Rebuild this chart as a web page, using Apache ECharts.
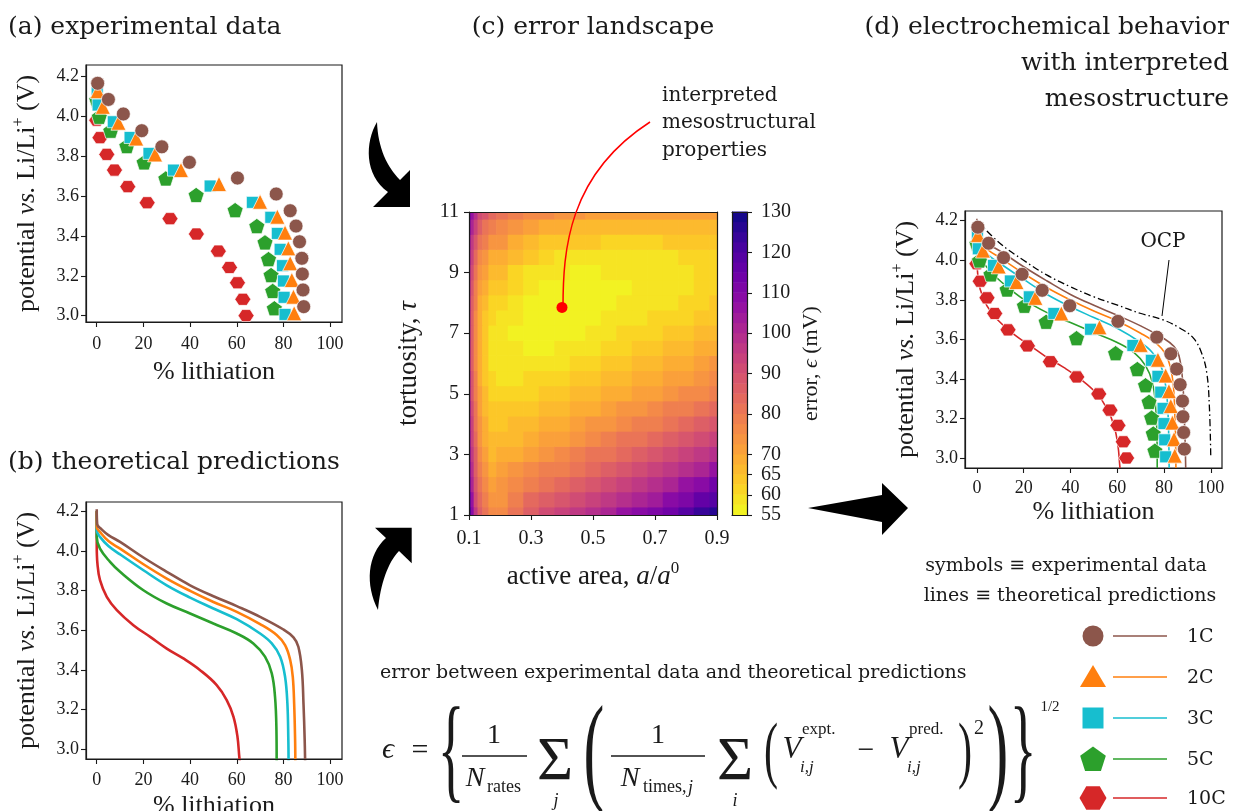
<!DOCTYPE html>
<html><head><meta charset="utf-8">
<script src="https://cdn.jsdelivr.net/npm/echarts@6/dist/echarts.min.js"></script>
<style>html,body{margin:0;padding:0;background:#fff}#c{width:1233px;height:811px}</style>
</head><body><div id="c"></div>
<script>
// ---------------- data ----------------
const rateNames = ['1C','2C','3C','5C','10C'];
// experimental data (panels a, d)
const exp1C_x = [0.4, 5.0, 11.4, 19.3, 27.9, 39.7, 60.3, 76.9, 82.9, 85.4, 86.9, 87.9, 88.1, 88.4, 88.7];
const exp1C_y = [4.167, 4.086, 4.013, 3.929, 3.848, 3.770, 3.691, 3.611, 3.527, 3.450, 3.371, 3.288, 3.209, 3.129, 3.045];
const exp2C_x = [0.4, 2.6, 9.3, 16.9, 25.0, 36.1, 52.4, 70.0, 77.4, 80.7, 82.1, 82.9, 83.6, 84.3, 84.6];
const exp2C_y = [4.128, 4.049, 3.969, 3.890, 3.810, 3.731, 3.661, 3.572, 3.497, 3.417, 3.338, 3.263, 3.179, 3.095, 3.012];
const exp3C_x = [0.2, 0.6, 7.1, 14.3, 22.4, 32.9, 48.6, 66.7, 74.6, 77.4, 78.6, 79.6, 80.0, 80.3, 80.7];
const exp3C_y = [4.135, 4.058, 3.974, 3.895, 3.815, 3.731, 3.651, 3.569, 3.494, 3.413, 3.333, 3.251, 3.174, 3.092, 3.006];
const exp5C_x = [0.0, 1.1, 6.0, 12.9, 20.3, 29.6, 42.6, 59.3, 68.6, 72.1, 73.6, 74.7, 75.4, 76.1];
const exp5C_y = [4.083, 3.999, 3.929, 3.852, 3.770, 3.689, 3.606, 3.530, 3.450, 3.368, 3.284, 3.204, 3.124, 3.037];
const exp10C_x = [0.0, 1.4, 4.3, 7.6, 13.3, 21.6, 31.4, 42.7, 52.1, 56.9, 60.3, 62.6, 64.0];
const exp10C_y = [3.982, 3.894, 3.810, 3.731, 3.648, 3.567, 3.487, 3.410, 3.324, 3.242, 3.165, 3.082, 3.000];
// theoretical predictions (panels b, d)
const th1C_x = [0, 0.2, 2, 5, 10, 20, 30, 40, 50, 60, 70, 80, 84.3, 86.4, 87.9, 88.6, 89.1, 89.3];
const th1C_y = [4.21, 4.135, 4.11, 4.08, 4.046, 3.967, 3.895, 3.827, 3.772, 3.722, 3.668, 3.604, 3.564, 3.517, 3.40, 3.23, 3.05, 2.94];
const th2C_x = [0, 0, 1.4, 5, 10, 20, 30, 40, 50, 60, 70, 77.1, 80.7, 82.9, 84.0, 84.6, 85.0, 85.1];
const th2C_y = [4.2, 4.121, 4.096, 4.05, 4.012, 3.933, 3.861, 3.799, 3.743, 3.693, 3.631, 3.576, 3.525, 3.45, 3.366, 3.23, 3.05, 2.94];
const th3C_x = [0, 0, 1.4, 5, 10, 20, 30, 40, 50, 60, 70, 75, 78.6, 80.7, 81.7, 82.1, 82.2];
const th3C_y = [4.2, 4.104, 4.071, 4.025, 3.983, 3.903, 3.827, 3.765, 3.71, 3.656, 3.584, 3.534, 3.467, 3.366, 3.23, 3.05, 2.94];
const th5C_x = [0, 0, 1.4, 5.7, 10, 20, 30, 40, 50, 60, 67.1, 72.1, 75.0, 76.4, 77.0, 77.1];
const th5C_y = [4.2, 4.071, 4.012, 3.945, 3.895, 3.802, 3.735, 3.685, 3.634, 3.584, 3.534, 3.467, 3.383, 3.265, 3.10, 2.94];
const th10C_x = [0, 0, 0.3, 1.4, 4.3, 8.6, 15.7, 22.9, 30, 37.1, 44.3, 51.4, 55.7, 58.6, 60.3, 61.1, 61.3];
const th10C_y = [4.2, 4.029, 3.936, 3.853, 3.769, 3.702, 3.626, 3.567, 3.508, 3.458, 3.399, 3.324, 3.248, 3.164, 3.064, 2.96, 2.94];
const ocp_x = [0, 9.8, 19.8, 29.8, 39.8, 49.8, 59.8, 69.8, 79.7, 86.9, 92.6, 96.1, 98.3, 99.4, 100];
const ocp_y = [4.2, 4.086, 4.001, 3.926, 3.867, 3.816, 3.774, 3.732, 3.698, 3.656, 3.606, 3.53, 3.429, 3.261, 3.0];
// error landscape (panel c): sample positions and read error values (mV)
const heatArea = [0.1, 0.11, 0.12, 0.135, 0.15, 0.175, 0.2, 0.25, 0.3, 0.35, 0.4, 0.45, 0.5, 0.55, 0.6, 0.65, 0.7, 0.75, 0.8, 0.85, 0.9];
const heatTau = [1, 1.5, 2, 2.5, 3, 3.5, 4, 4.5, 5, 5.5, 6, 6.5, 7, 7.5, 8, 8.5, 9, 9.5, 10, 10.5, 11];
const errGrid = [
 [125,109,95,85.5,80,75,77.0, 82.1,86.9,90.6,93.4,96.4,99.0,102.0,105.1,107.8,111.0,114.4,118.5,122.5,127.0],
 [120,105,92,82.5,77.5,72.6,74.7, 78.7,82.8,86.0,88.5,91.3,93.8,96.5,99.4,101.9,104.8,108.0,111.7,115.4,119.5],
 [117,102,89.5,80,75.3,70.6,72.5, 75.5,79.0,81.8,84.0,86.6,88.8,91.4,94.0,96.4,99.0,101.9,105.3,108.6,112.5],
 [114,99,87,78,73.3,68.8,70.4, 72.6,75.5,77.8,79.8,82.2,84.2,86.6,89.0,91.2,93.6,96.3,99.4,102.4,105.9],
 [111,96.5,85,76,71.5,67,68.4, 69.9,72.2,74.2,75.9,78.1,80.0,82.1,84.4,86.4,88.5,91.0,93.8,96.5,99.8],
 [109,94.5,83.2,74.3,69.8,65.4,66.5, 67.4,69.3,70.8,72.4,74.3,76.1,78.0,80.1,81.9,83.9,86.1,88.7,91.1,94.1],
 [107,92.5,81.5,72.8,68.2,64,64.7, 65.2,66.6,67.8,69.1,70.9,72.5,74.3,76.2,77.8,79.6,81.6,83.9,86.1,88.9],
 [106,91,80,71.3,66.8,62.6,63.0, 63.2,64.1,65.1,66.2,67.8,69.2,70.9,72.6,74.1,75.7,77.6,79.6,81.6,84.1],
 [104,89,78.5,70,65.5,61.3,61.5, 61.4,62.0,62.7,63.6,65.0,66.3,67.8,69.4,70.7,72.2,73.9,75.7,77.4,79.8],
 [103,88,77.5,69,64.7,60.2,59.9, 59.9,60.1,60.5,61.3,62.6,63.8,65.1,66.5,67.7,69.0,70.5,72.1,73.7,75.9],
 [102,87,76.5,68.3,64,59.5,58.8, 58.6,58.5,58.7,59.3,60.4,61.5,62.7,64.0,65.1,66.2,67.6,69.0,70.4,72.5],
 [101,86,76,68,63.8,59.3,58.5, 57.5,57.2,57.2,57.7,58.7,59.7,60.7,61.8,62.8,63.8,65.1,66.3,67.6,69.5],
 [100,86,76,68,64,59.6,59.0, 57.0,56.1,56.0,56.4,57.2,58.1,59.0,60.0,60.9,61.8,62.9,64.0,65.2,66.9],
 [100,86,76.5,68.5,64.5,60.5,59.9, 57.5,55.9,55.2,55.3,56.1,56.9,57.7,58.6,59.4,60.2,61.2,62.2,63.2,64.8],
 [100,87,77.5,69.5,65.5,62,61.3, 58.6,56.6,55.6,55.3,55.5,56.0,56.7,57.5,58.2,58.9,59.8,60.7,61.6,63.2],
 [101,88,79,71.5,67.5,64,63.2, 60.2,57.9,56.7,56.1,56.1,56.3,56.7,57.1,57.5,58.0,58.8,59.6,60.5,62.0],
 [102,90,81.5,74,70,66.5,65.6, 62.3,59.9,58.4,57.6,57.4,57.4,57.5,57.7,58.0,58.4,58.9,59.4,60.2,61.6],
 [104,93,84.5,77,73,69.5,68.4, 65.0,62.5,60.8,59.8,59.3,59.1,59.1,59.1,59.3,59.5,59.9,60.3,60.9,62.2],
 [107,97,89,81.5,78,74,72.8, 69.3,66.7,64.8,63.7,63.0,62.6,62.4,62.2,62.2,62.3,62.6,62.9,63.4,64.4],
 [110,101,94,86,82,78,76.6, 74.1,71.5,69.6,68.2,67.4,66.7,66.3,66.0,65.9,65.9,66.0,66.2,66.6,67.4],
 [114,106,99,92,88,84,82.0, 79.5,77.0,75.0,73.5,72.5,71.5,71.0,70.5,70.3,70.2,70.2,70.3,70.6,71.0]
];
const bestPoint = [0.4, 7.85];
const cbarLevels = [55,57.5,60,62.5,65,67.5,70,72.5,75,77.5,80,82.5,85,87.5,90,92.5,95,97.5,100,102.5,105,107.5,110,112.5,115,117.5,120,122.5,125,127.5];
const cbarStep = 2.5;
// tick values
const pctTicks = [0,20,40,60,80,100];
const voltTicks = [3.0,3.2,3.4,3.6,3.8,4.0,4.2];
const areaTicks = [0.1,0.3,0.5,0.7,0.9];
const tauTicks = [1,3,5,7,9,11];
const errTicks = [55,60,65,70,80,90,100,110,120,130];

// ---------------- styles ----------------
const CM = "'Liberation Serif','DejaVu Serif',serif";
const TX = "'DejaVu Serif',serif";
const INK = '#1a1a1a';
const rateColor = ['#8c564b','#ff7f0e','#17becf','#2ca02c','#d62728'];
const PENT = 'path://M0,-1 L0.951,-0.309 L0.588,0.809 L-0.588,0.809 L-0.951,-0.309 Z';
const HEX = 'path://M1,0 L0.5,0.866 L-0.5,0.866 L-1,0 L-0.5,-0.866 L0.5,-0.866 Z';
const rateSymbol = ['circle','triangle','rect',PENT,HEX];
const rateSymSize = [14,15,12,16,[16,14]];
const expX = [exp1C_x,exp2C_x,exp3C_x,exp5C_x,exp10C_x];
const expY = [exp1C_y,exp2C_y,exp3C_y,exp5C_y,exp10C_y];
const thX = [th1C_x,th2C_x,th3C_x,th5C_x,th10C_x];
const thY = [th1C_y,th2C_y,th3C_y,th5C_y,th10C_y];
const zip = (a,b) => a.map((v,i)=>[v,b[i]]);

const plasmaStops = ['#0d0887','#41049d','#6a00a8','#8f0da4','#b12a90','#cc4778','#e16462','#f2844b','#fca636','#fcce25','#f0f921'];
function hex2rgb(h){return [parseInt(h.substr(1,2),16),parseInt(h.substr(3,2),16),parseInt(h.substr(5,2),16)];}
function plasma(t){
  t=Math.max(0,Math.min(1,t)); const s=t*10; const k=Math.min(9,Math.floor(s)); const f=s-k;
  const a=hex2rgb(plasmaStops[k]), b=hex2rgb(plasmaStops[k+1]);
  return 'rgb('+a.map((v,i)=>Math.round(v+(b[i]-v)*f)).join(',')+')';
}
function errColor(v){
  const n=cbarLevels.length; let k=Math.floor((v-cbarLevels[0])/cbarStep); k=Math.max(0,Math.min(n-1,k));
  return plasma(1-(k+0.5)/n);
}

function baseAxis(o){
  const a = {
    type:'value', z:10,
    axisLine:{show:true,onZero:false,lineStyle:{color:INK,width:1.2}},
    axisTick:{show:true,inside:false,length:5,lineStyle:{color:INK,width:1.1}},
    splitLine:{show:false},
    axisLabel:{show:true,color:INK,fontFamily:CM,fontSize:18},
    nameLocation:'middle',
    nameTextStyle:{color:INK,fontFamily:CM,fontSize:26}
  };
  for (const k in o){ if (typeof o[k]==='object' && !Array.isArray(o[k]) && a[k]) a[k]=Object.assign({},a[k],o[k]); else a[k]=o[k]; }
  return a;
}
function lineOnly(o){ return Object.assign({type:'value',z:10,axisLine:{show:true,onZero:false,lineStyle:{color:INK,width:1.2}},axisTick:{show:false},axisLabel:{show:false},splitLine:{show:false}},o); }

const richAxis = (fs)=>({
  n:{fontFamily:CM,fontSize:fs,lineHeight:fs+6,verticalAlign:'middle',color:INK},
  i:{fontFamily:CM,fontSize:fs,fontStyle:'italic',lineHeight:fs+6,verticalAlign:'middle',color:INK},
  s:{fontFamily:CM,fontSize:Math.round(fs*0.62),lineHeight:Math.round(fs*0.62),verticalAlign:'top',color:INK}
});
const potName = '{n|potential }{i|vs.}{n| Li/Li}{s|+}{n| (V)}';

const pctAxis = (gi,min,max,margin,gap)=>baseAxis({gridIndex:gi,min:min,max:max,
  axisTick:{customValues:pctTicks},axisLabel:{customValues:pctTicks,margin:margin},name:'% lithiation',nameGap:gap});
const voltAxis = (gi,min,max)=>baseAxis({gridIndex:gi,min:min,max:max,
  axisTick:{customValues:voltTicks},axisLabel:{customValues:voltTicks,margin:7,formatter:v=>v.toFixed(1)},
  name:potName,nameGap:43,nameRotate:90,nameTextStyle:{rich:richAxis(26)}});

// ---------------- series ----------------
const series = [];
// panel c heat
const heatData = [];
errGrid.forEach((row,j)=>row.forEach((v,i)=>heatData.push([heatArea[i],heatTau[j],v,i,j])));
series.push({
  type:'custom', xAxisIndex:2, yAxisIndex:2, silent:true, progressive:0,
  dimensions:['a','tau','err','i','j'], encode:{x:0,y:1},
  data:heatData,
  renderItem:function(params,api){
    const i=api.value(3), j=api.value(4), nx=heatArea.length, ny=heatTau.length;
    const x0=i===0?heatArea[0]:(heatArea[i-1]+heatArea[i])/2;
    const x1=i===nx-1?heatArea[i]:(heatArea[i]+heatArea[i+1])/2;
    const y0=j===0?heatTau[0]:(heatTau[j-1]+heatTau[j])/2;
    const y1=j===ny-1?heatTau[j]:(heatTau[j]+heatTau[j+1])/2;
    const p0=api.coord([x0,y0]), p1=api.coord([x1,y1]);
    const pr=i===nx-1?0:0.7, pt=j===ny-1?0:0.7;
    return {type:'rect',shape:{x:p0[0],y:p1[1]-pt,width:p1[0]-p0[0]+pr,height:p0[1]-p1[1]+pt},style:{fill:errColor(api.value(2))}};
  }
});
series.push({type:'scatter',xAxisIndex:2,yAxisIndex:2,z:5,silent:true,symbol:'circle',symbolSize:11,itemStyle:{color:'#ff0000',opacity:1},data:[bestPoint]});
// colorbar
series.push({
  type:'custom', xAxisIndex:4, yAxisIndex:4, silent:true,
  data:cbarLevels.map(l=>[0.5,l]),
  renderItem:function(params,api){
    const l=api.value(1); const p0=api.coord([0,l]), p1=api.coord([1,l+cbarStep]);
    return {type:'rect',shape:{x:p0[0],y:p1[1]-0.5,width:p1[0]-p0[0],height:p0[1]-p1[1]+0.5},style:{fill:errColor(l+cbarStep/2)}};
  }
});
for (let k=4;k>=0;k--){
  series.push({type:'scatter',xAxisIndex:0,yAxisIndex:0,name:rateNames[k],symbol:rateSymbol[k],symbolSize:rateSymSize[k],symbolKeepAspect:true,
    itemStyle:{color:rateColor[k],opacity:1,borderColor:'#fff',borderWidth:0.7},data:zip(expX[k],expY[k]),silent:true});
}
for (let k=4;k>=0;k--){
  series.push({type:'line',xAxisIndex:1,yAxisIndex:1,name:rateNames[k],showSymbol:false,smooth:0.4,
    lineStyle:{color:rateColor[k],width:2.6},data:zip(thX[k],thY[k]),silent:true});
}
series.push({type:'line',xAxisIndex:6,yAxisIndex:6,name:'OCP',showSymbol:false,smooth:0.4,
  lineStyle:{color:'#000',width:1.3,type:[7,3,1.5,3]},data:zip(ocp_x,ocp_y),silent:true});
for (let k=4;k>=0;k--){
  series.push({type:'line',xAxisIndex:6,yAxisIndex:6,name:rateNames[k],showSymbol:false,smooth:0.4,
    lineStyle:{color:rateColor[k],width:1.6},data:zip(thX[k],thY[k]),silent:true});
}
for (let k=4;k>=0;k--){
  series.push({type:'scatter',xAxisIndex:6,yAxisIndex:6,z:4,name:rateNames[k],symbol:rateSymbol[k],symbolSize:rateSymSize[k],symbolKeepAspect:true,
    itemStyle:{color:rateColor[k],opacity:1,borderColor:'#fff',borderWidth:0.7},data:zip(expX[k],expY[k]),silent:true});
}

// ---------------- graphics ----------------
const G = [];
const txt = (x,y,s,font,align,va,extra)=>Object.assign({type:'text',x:x,y:y,z:100,silent:true,style:{text:s,font:font,fill:INK,align:align||'left',verticalAlign:va||'middle'}},extra||{});
G.push(txt(8,27,'(a) experimental data','25px '+TX));
G.push(txt(8,462,'(b) theoretical predictions','25px '+TX));
G.push(txt(593,27,'(c) error landscape','25px '+TX,'center'));
G.push(txt(1229,27,'(d) electrochemical behavior','25px '+TX,'right'));
G.push(txt(1229,63,'with interpreted','25px '+TX,'right'));
G.push(txt(1229,99,'mesostructure','25px '+TX,'right'));
G.push(txt(662,96,'interpreted','20px '+TX));
G.push(txt(662,123,'mesostructural','20px '+TX));
G.push(txt(662,151,'properties','20px '+TX));
G.push({type:'bezierCurve',z:100,silent:true,shape:{x1:563,y1:308,cpx1:563,cpy1:250,cpx2:568,cpy2:175,x2:650,y2:122},style:{fill:null,stroke:'#ff0000',lineWidth:1.5}});
// arrows (polygons built from bezier outlines)
function bez(p0,p1,p2,p3,n){const out=[];for(let s=0;s<=n;s++){const t=s/n,u=1-t;
  out.push([u*u*u*p0[0]+3*u*u*t*p1[0]+3*u*t*t*p2[0]+t*t*t*p3[0], u*u*u*p0[1]+3*u*u*t*p1[1]+3*u*t*t*p2[1]+t*t*t*p3[1]]);}return out;}
const arrow1 = [].concat(bez([377,122],[365,142],[364,175],[388,192],16),[[373,207],[410,207],[410,170],[400,180]],bez([400,180],[387,167],[378,148],[377,122],16));
const arrow2 = [].concat(bez([378,610],[365,585],[367,555],[386,538],16),[[375,527.7],[411.7,527.7],[411.7,563.3],[399,551]],bez([399,551],[388,562],[380,585],[378,610],16));
const arrow3 = [[808,508],[882,495],[882,483],[908,508],[882,535],[882,522]];
[arrow1,arrow2,arrow3].forEach(p=>G.push({type:'polygon',z:100,silent:true,shape:{points:p},style:{fill:'#000'}}));
// OCP label
G.push(txt(1163,242,'OCP','20px '+TX,'center'));
G.push({type:'line',z:100,silent:true,shape:{x1:1169,y1:260,x2:1162,y2:316},style:{stroke:'#000',lineWidth:1}});
// legend
G.push(txt(1066,566,'symbols \u2261 experimental data','19px '+TX,'center'));
G.push(txt(1070,596,'lines \u2261 theoretical predictions','19px '+TX,'center'));
const legY=[636,677,718,759,798], legX=1093;
function poly(cx,cy,r,n,rot){const p=[];for(let i=0;i<n;i++){const a=rot+i*2*Math.PI/n;p.push([cx+r*Math.cos(a),cy+r*Math.sin(a)]);}return p;}
legY.forEach((y,k)=>{
  let m;
  if(k===0) m={type:'circle',shape:{cx:legX,cy:y,r:10.5}};
  else if(k===1) m={type:'polygon',shape:{points:[[legX-13,y+10],[legX+13,y+10],[legX,y-12]]}};
  else if(k===2) m={type:'rect',shape:{x:legX-10.5,y:y-10.5,width:21,height:21}};
  else if(k===3) m={type:'polygon',shape:{points:poly(legX,y+1,13.5,5,-Math.PI/2)}};
  else m={type:'polygon',shape:{points:poly(legX,y,13.5,6,0)}};
  m.z=100; m.silent=true; m.style={fill:rateColor[k]};
  G.push(m);
  G.push({type:'line',z:100,silent:true,shape:{x1:1113,y1:y,x2:1167,y2:y},style:{stroke:rateColor[k],lineWidth:1.6}});
  G.push(txt(1187,y+1,rateNames[k],'19px '+TX));
});
// equation
G.push(txt(380,673,'error between experimental data and theoretical predictions','19px '+TX));
const EQ = (x,y,s,size,italic,align,extra)=>txt(x,y,s,(italic?'italic ':'')+size+'px '+CM,align||'center','middle',extra);
G.push(EQ(388,750,'\u03f5',30,true));
G.push(EQ(420,751,'=',30,false));
G.push(EQ(451,757,'{',116,false,'center',{scaleX:0.48}));
G.push(EQ(494,736,'1',28,false));
G.push({type:'line',z:100,silent:true,shape:{x1:462,y1:756,x2:527,y2:756},style:{stroke:INK,lineWidth:1.3}});
G.push(EQ(475,779,'N',28,true));
G.push(EQ(487,787,'rates',18,false,'left'));
G.push(EQ(555,763,'\u03a3',62,false));
G.push(EQ(556,801,'j',18,true));
G.push(EQ(594,757,'(',120,false,'center',{scaleX:0.52}));
G.push(EQ(658,736,'1',28,false));
G.push({type:'line',z:100,silent:true,shape:{x1:611,y1:756,x2:705,y2:756},style:{stroke:INK,lineWidth:1.3}});
G.push(EQ(630,779,'N',28,true));
G.push(EQ(643,787,'times,',18,false,'left'));
G.push(EQ(688,788,'j',18,true,'left'));
G.push(EQ(735,763,'\u03a3',62,false));
G.push(EQ(735,801,'i',18,true));
G.push(EQ(771,755,'(',74,false,'center',{scaleX:0.57}));
G.push(EQ(792,750,'V',31,true));
G.push(EQ(802,730,'expt.',17,false,'left'));
G.push(EQ(800,768,'i,j',17,true,'left'));
G.push(EQ(866,751,'\u2212',30,false));
G.push(EQ(899,750,'V',31,true));
G.push(EQ(909,730,'pred.',17,false,'left'));
G.push(EQ(907,768,'i,j',17,true,'left'));
G.push(EQ(965,755,')',74,false,'center',{scaleX:0.57}));
G.push(EQ(979,729,'2',20,false));
G.push(EQ(998,757,')',120,false,'center',{scaleX:0.52}));
G.push(EQ(1023,757,'}',116,false,'center',{scaleX:0.48}));
G.push(EQ(1050,707,'1/2',15,false));

// ---------------- option ----------------
const gridCommon = {show:true,borderColor:INK,borderWidth:1.2,backgroundColor:'transparent',containLabel:false,outerBoundsMode:'none'};
const option = {
  animation:false,
  backgroundColor:'#fff',
  grid:[
    Object.assign({left:86,top:65,width:256,height:257},gridCommon),
    Object.assign({left:86,top:502,width:256,height:257},gridCommon),
    {left:469,top:212,width:248,height:303,show:false,containLabel:false,outerBoundsMode:'none'},
    {left:732,top:212,width:15,height:303,show:false,containLabel:false,outerBoundsMode:'none'},
    Object.assign({left:965,top:211,width:257,height:257},gridCommon)
  ],
  xAxis:[
    pctAxis(0,-4.6,105.1,13,37),
    pctAxis(1,-4.6,105.1,12,34),
    baseAxis({gridIndex:2,min:0.1,max:0.9,axisTick:{customValues:areaTicks},axisLabel:{customValues:areaTicks,margin:14,fontSize:20,formatter:v=>v.toFixed(1)},
      name:'{n|active area, }{i|a}{n|/}{i|a}{s|0}',nameGap:45,nameTextStyle:{rich:richAxis(27)}}),
    lineOnly({gridIndex:2,min:0.1,max:0.9,position:'top'}),
    lineOnly({gridIndex:3,min:0,max:1,position:'bottom'}),
    lineOnly({gridIndex:3,min:0,max:1,position:'top'}),
    pctAxis(4,-5.1,104.8,11,31)
  ],
  yAxis:[
    voltAxis(0,2.968,4.259),
    voltAxis(1,2.951,4.247),
    baseAxis({gridIndex:2,min:1,max:11,axisTick:{customValues:tauTicks},axisLabel:{customValues:tauTicks,margin:10,fontSize:20},
      name:'{n|tortuosity, }{i|\u03c4}',nameGap:44,nameRotate:90,nameTextStyle:{rich:richAxis(27)}}),
    lineOnly({gridIndex:2,min:1,max:11,position:'right'}),
    baseAxis({gridIndex:3,min:55,max:130,position:'right',axisTick:{customValues:errTicks},axisLabel:{customValues:errTicks,margin:14,fontSize:20},
      name:'{n|error, }{i|\u03f5}{n| (mV)}',nameGap:50,nameRotate:90,nameTextStyle:{rich:richAxis(22)}}),
    lineOnly({gridIndex:3,min:55,max:130,position:'left'}),
    voltAxis(4,2.9495,4.249)
  ],
  series:series,
  graphic:{elements:G}
};
const chart = echarts.init(document.getElementById('c'),null,{renderer:'canvas'});
chart.setOption(option);
</script></body></html>
